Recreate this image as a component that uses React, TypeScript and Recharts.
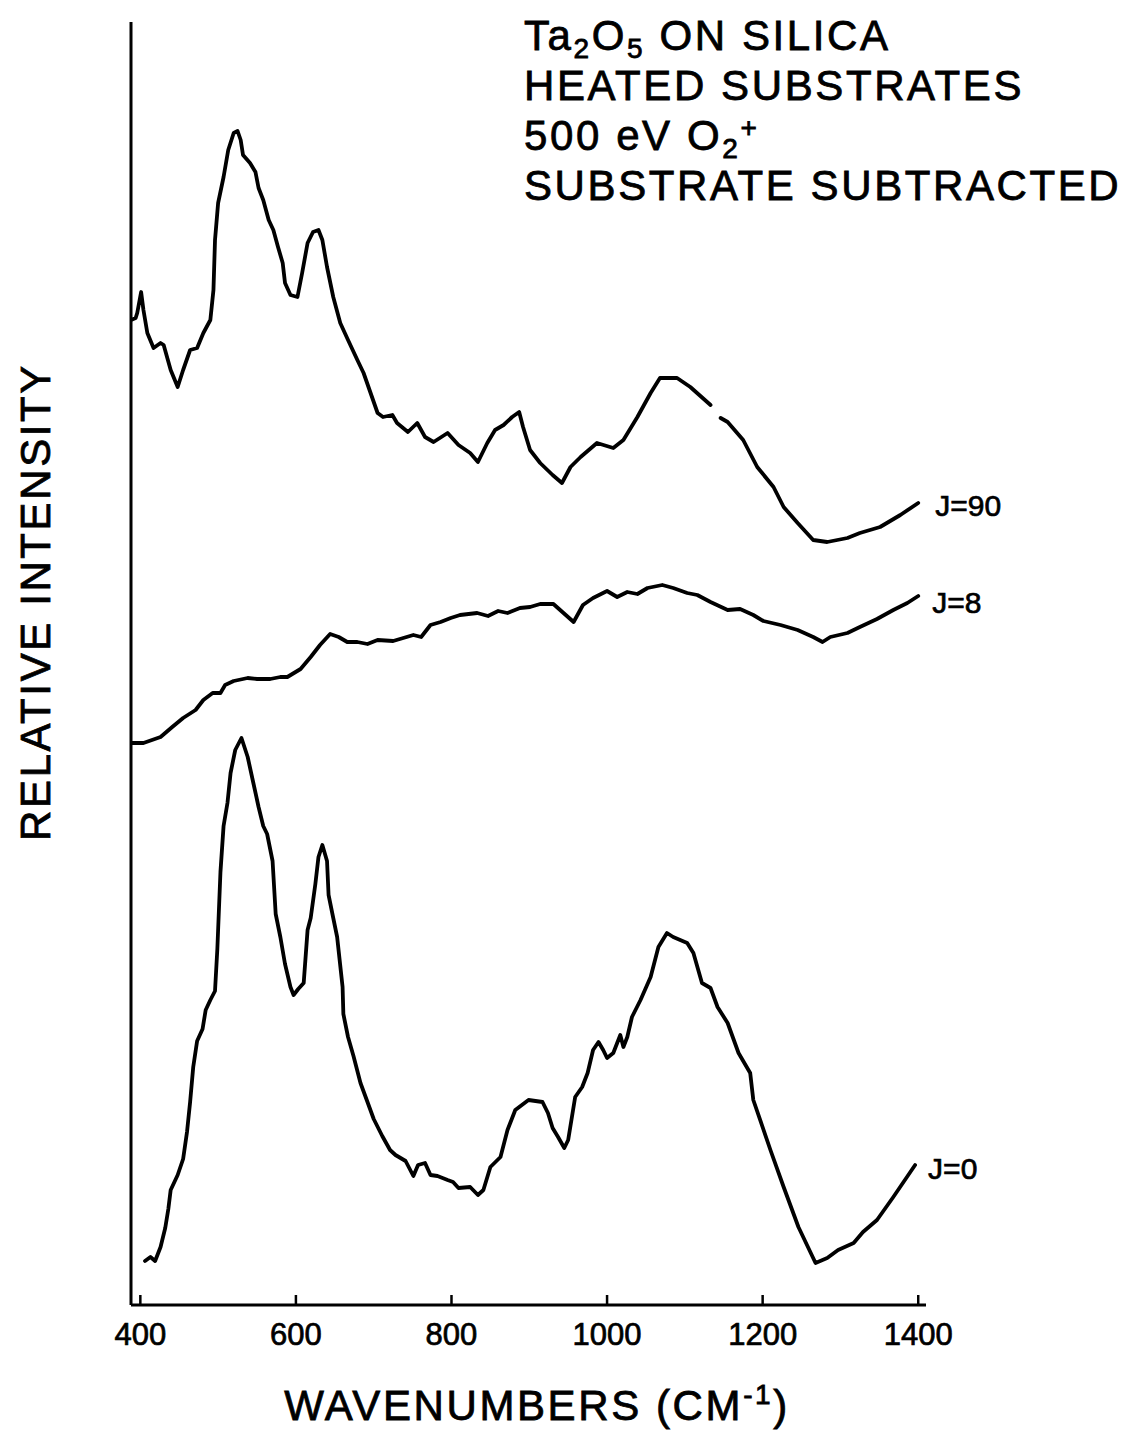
import React from 'react';
import { LineChart, Line, XAxis, YAxis } from 'recharts';

type Pt = [number, number | null];

const wavenumberTicks = [400, 600, 800, 1000, 1200, 1400];

// [wavenumber (cm-1), relative intensity], traces offset vertically
// J=90 trace; the null is the short break in the pen line near 1140
const j90: Pt[] = [
  [388, 98.5], [394, 98.7], [396, 99.2], [401, 101.3], [404, 99.5], [409, 97.2],
  [417, 95.7], [426, 96.2], [430, 96.0], [439, 93.5], [448, 91.8], [455, 93.5],
  [464, 95.5], [473, 95.7], [481, 97.2], [490, 98.5], [494, 101.5], [496, 106.5],
  [500, 110.2], [507, 112.8], [513, 115.5], [520, 117.2], [525, 117.4], [529, 116.5],
  [532, 115.0], [541, 114.2], [548, 113.3], [552, 111.7], [558, 110.5], [565, 108.5],
  [571, 107.5], [577, 105.8], [583, 104.2], [586, 102.2], [593, 101.0], [602, 100.8],
  [608, 103.2], [615, 106.2], [622, 107.3], [629, 107.5], [634, 106.5], [640, 103.8],
  [648, 100.8], [657, 98.2], [667, 96.5], [679, 94.5], [687, 93.2], [696, 91.2],
  [705, 89.2], [712, 88.8], [724, 89.0], [730, 88.2], [744, 87.3], [756, 88.2],
  [766, 86.8], [777, 86.3], [795, 87.2], [809, 86.0], [824, 85.2], [834, 84.3],
  [846, 86.2], [856, 87.5], [867, 88.0], [878, 88.8], [887, 89.3], [892, 87.8],
  [901, 85.5], [914, 84.2], [930, 83.0], [942, 82.2], [953, 83.8], [966, 84.8],
  [987, 86.2], [1008, 85.7], [1021, 86.5], [1039, 88.8], [1056, 91.2], [1068, 92.7],
  [1090, 92.7], [1107, 91.8], [1133, 90.0], [1139, null], [1146, 88.7], [1155, 88.3],
  [1175, 86.5], [1193, 83.8], [1214, 81.8], [1227, 79.8], [1245, 78.2], [1265, 76.5],
  [1283, 76.3], [1309, 76.7], [1325, 77.2], [1351, 77.8], [1377, 79.0], [1400, 80.2],
];

// J=8 trace
const j8: Pt[] = [
  [389, 56.2], [404, 56.2], [426, 56.8], [441, 57.8], [455, 58.7], [471, 59.5],
  [481, 60.5], [493, 61.2], [503, 61.2], [509, 62.0], [520, 62.4], [538, 62.7],
  [550, 62.6], [567, 62.6], [580, 62.8], [589, 62.8], [606, 63.6], [619, 64.8],
  [631, 66.0], [644, 67.1], [655, 66.8], [666, 66.3], [679, 66.3], [692, 66.1],
  [705, 66.5], [725, 66.4], [738, 66.7], [751, 67.0], [761, 66.8], [773, 68.0],
  [786, 68.3], [799, 68.7], [811, 69.0], [833, 69.2], [847, 68.9], [860, 69.4],
  [872, 69.2], [888, 69.7], [901, 69.8], [914, 70.1], [931, 70.1], [944, 69.2],
  [957, 68.3], [969, 70.0], [982, 70.7], [1000, 71.4], [1013, 70.8], [1026, 71.3],
  [1039, 71.1], [1052, 71.7], [1071, 72.0], [1085, 71.7], [1103, 71.2], [1116, 71.0],
  [1133, 70.3], [1155, 69.5], [1171, 69.6], [1188, 69.0], [1201, 68.4], [1223, 68.0],
  [1245, 67.5], [1265, 66.8], [1277, 66.3], [1287, 66.8], [1309, 67.2], [1325, 67.8],
  [1347, 68.6], [1368, 69.5], [1386, 70.2], [1400, 70.9],
];

// J=0 trace
const j0: Pt[] = [
  [406, 4.4], [413, 4.8], [419, 4.4], [426, 5.8], [432, 7.7], [436, 9.6],
  [439, 11.5], [448, 13.0], [455, 14.6], [460, 17.3], [464, 20.3], [468, 23.8],
  [473, 26.4], [480, 27.6], [484, 29.5], [490, 30.5], [496, 31.4], [499, 35.6],
  [503, 43.3], [507, 47.9], [512, 50.2], [516, 53.2], [522, 55.5], [530, 56.7],
  [538, 54.8], [545, 52.3], [552, 49.8], [558, 47.9], [563, 47.1], [570, 44.4],
  [574, 39.1], [580, 36.8], [586, 34.1], [593, 31.8], [597, 31.0], [603, 31.6],
  [610, 32.2], [615, 37.5], [619, 38.7], [625, 42.1], [629, 44.8], [634, 46.0],
  [640, 44.4], [642, 41.0], [648, 38.7], [653, 36.8], [660, 31.8], [661, 29.1],
  [667, 26.8], [674, 24.9], [683, 22.2], [692, 20.3], [700, 18.6], [711, 16.9],
  [721, 15.5], [728, 15.0], [741, 14.4], [751, 12.9], [757, 14.0], [766, 14.2],
  [773, 13.0], [782, 12.9], [795, 12.5], [802, 12.3], [809, 11.7], [824, 11.8],
  [834, 11.0], [841, 11.5], [850, 13.8], [863, 14.8], [872, 17.5], [882, 19.5],
  [899, 20.5], [917, 20.3], [924, 19.2], [930, 17.7], [937, 16.8], [945, 15.7],
  [950, 16.5], [959, 20.8], [968, 21.8], [975, 23.2], [982, 25.5], [989, 26.3],
  [995, 25.5], [1000, 24.7], [1008, 25.2], [1017, 27.0], [1021, 25.8], [1026, 26.8],
  [1032, 28.8], [1043, 30.5], [1056, 32.8], [1066, 35.8], [1077, 37.2], [1085, 36.8],
  [1103, 36.2], [1111, 35.2], [1122, 32.2], [1133, 31.7], [1142, 29.8], [1155, 28.2],
  [1169, 25.2], [1184, 23.2], [1188, 20.5], [1210, 15.5], [1227, 11.8], [1246, 7.8],
  [1268, 4.2], [1283, 4.7], [1297, 5.5], [1317, 6.2], [1329, 7.3], [1347, 8.5],
  [1368, 10.8], [1396, 14.0],
];

const seriesNames = ['J=90', 'J=8', 'J=0'];
const seriesPoints = [j90, j8, j0];

const FONT = '"Liberation Sans", Arial, Helvetica, sans-serif';

// where each trace's name sits relative to its last point
const labelOffset: Record<string, [number, number]> = {
  'J=90': [17, 13],
  'J=8': [14, 17],
  'J=0': [13, 14],
};

const toRows = (pts: Pt[]) => pts.map(([wn, i]) => ({ wn, i }));

const endLabel = (name: string, count: number) => (props: any) => {
  const { x, y, index } = props;
  if (index !== count - 1 || x == null || y == null) return null;
  const [dx, dy] = labelOffset[name];
  return (
    <text
      x={x + dx}
      y={y + dy}
      fontSize={30}
      fontFamily={FONT}
      fill="#000"
      stroke="#000"
      strokeWidth={0.7}
    >
      {name}
    </text>
  );
};

// ticks point up into the plot, labels sit below the axis
const WavenumberTick = (props: any) => {
  const { x, y, payload } = props;
  return (
    <g>
      <line x1={x} y1={y} x2={x} y2={y - 10} stroke="#000" strokeWidth={2.5} />
      <text
        x={x}
        y={y + 40}
        textAnchor="middle"
        fontSize={31}
        fontFamily={FONT}
        fill="#000"
        stroke="#000"
        strokeWidth={0.7}
      >
        {payload.value}
      </text>
    </g>
  );
};

export default function App() {
  return (
    <div style={{ position: 'absolute', left: 0, top: 0, width: 1127, height: 1437, background: '#fff' }}>
      <LineChart
        width={1127}
        height={1437}
        margin={{ top: 22, right: 201, bottom: 82, left: 121 }}
      >
        <XAxis
          dataKey="wn"
          type="number"
          domain={[388, 1410]}
          ticks={wavenumberTicks}
          height={50}
          tickSize={0}
          tickMargin={0}
          tickLine={false}
          axisLine={{ stroke: '#000', strokeWidth: 3 }}
          tick={<WavenumberTick />}
          interval={0}
          allowDataOverflow
        />
        <YAxis
          type="number"
          domain={[0, 128.3]}
          width={10}
          tick={false}
          tickLine={false}
          axisLine={{ stroke: '#000', strokeWidth: 3 }}
          allowDataOverflow
        />
        {seriesPoints.map((pts, k) => (
          <Line
            key={seriesNames[k]}
            name={seriesNames[k]}
            data={toRows(pts)}
            dataKey="i"
            type="linear"
            stroke="#000"
            strokeWidth={3.8}
            strokeLinejoin="round"
            strokeLinecap="round"
            dot={false}
            connectNulls={false}
            isAnimationActive={false}
            label={endLabel(seriesNames[k], pts.length)}
          />
        ))}
      </LineChart>

      <svg
        width={1127}
        height={1437}
        style={{ position: 'absolute', left: 0, top: 0, pointerEvents: 'none' }}
        fontFamily={FONT}
        fill="#000"
      >
        <g fontSize={42} letterSpacing={2.6} stroke="#000" strokeWidth={0.8}>
          <text x={524} y={50}>
            Ta<tspan fontSize={28} dy={8}>2</tspan>
            <tspan dy={-8}>O</tspan>
            <tspan fontSize={28} dy={8}>5</tspan>
            <tspan dy={-8}>{' ON SILICA'}</tspan>
          </text>
          <text x={524} y={100}>HEATED SUBSTRATES</text>
          <text x={524} y={150}>
            {'500 eV O'}
            <tspan fontSize={28} dy={8}>2</tspan>
            <tspan fontSize={28} dy={-21}>+</tspan>
          </text>
          <text x={524} y={200}>SUBSTRATE SUBTRACTED</text>

          <text x={50} y={602} textAnchor="middle" transform="rotate(-90 50 602)">
            RELATIVE INTENSITY
          </text>

          <text x={537} y={1420} textAnchor="middle">
            {'WAVENUMBERS (CM'}
            <tspan fontSize={28} dy={-16}>-1</tspan>
            <tspan dy={16}>)</tspan>
          </text>
        </g>
      </svg>
    </div>
  );
}
